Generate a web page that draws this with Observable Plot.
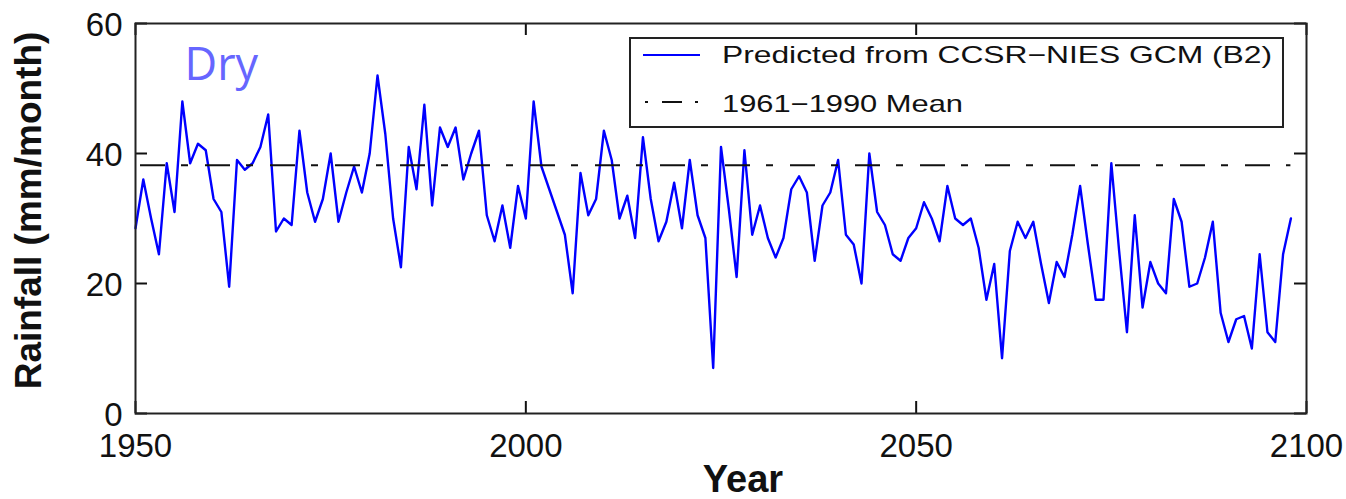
<!DOCTYPE html>
<html>
<head>
<meta charset="utf-8">
<script src="https://cdn.jsdelivr.net/npm/d3@7"></script>
<script src="https://cdn.jsdelivr.net/npm/@observablehq/plot@0.6"></script>
<style>
  html, body { margin: 0; padding: 0; background: #fff; }
  #wrap { position: relative; width: 1346px; height: 499px; overflow: hidden; }
  #legend { position: absolute; left: 0; top: 0; }
</style>
</head>
<body>
<div id="wrap"></div>
<script>
// ---- data ----
const startYear = 1950;
const rainfall = [
  28.5, 36, 30, 24.5, 38.5, 31, 48, 38.5, 41.5, 40.5,      // 1950-1959
  33, 31, 19.5, 39, 37.5, 38.5, 41, 46, 28, 30,            // 1960-1969
  29, 43.5, 34, 29.5, 33, 40, 29.5, 34, 38, 34,            // 1970-1979
  40, 52, 43, 30, 22.5, 41, 34.5, 47.5, 32, 44,            // 1980-1989
  41, 44, 36, 40, 43.5, 30.5, 26.5, 32, 25.5, 35,          // 1990-1999
  30, 48, 38, 34.5, 31, 27.5, 18.5, 37, 30.5, 33,          // 2000-2009
  43.5, 39, 30, 33.5, 27, 42.5, 33, 26.5, 29.5, 35.5,      // 2010-2019
  28.5, 39, 30.5, 27, 7, 41, 31.5, 21, 40.5, 27.5,         // 2020-2029
  32, 27, 24, 27, 34.5, 36.5, 34, 23.5, 32, 34,            // 2030-2039
  39, 27.5, 26, 20, 40, 31, 29, 24.5, 23.5, 27,            // 2040-2049
  28.5, 32.5, 30, 26.5, 35, 30, 29, 30, 25.5, 17.5,        // 2050-2059
  23, 8.5, 25, 29.5, 27, 29.5, 23, 17, 23.3, 21,           // 2060-2069
  27.5, 35, 26, 17.5, 17.5, 38.5, 25, 12.5, 30.5, 16.3,    // 2070-2079
  23.3, 20, 18.5, 33, 29.5, 19.5, 20, 24, 29.5, 15.5,      // 2080-2089
  11, 14.5, 15, 10, 24.5, 12.5, 11, 24.5, 30               // 2090-2098
];
const years = rainfall.map((_, i) => startYear + i);
const meanValue = 38.2;
const meanSpan = [1950, 2098];
const xTicks = [1950, 2000, 2050, 2100];
const yTicks = [0, 20, 40, 60];
const xDomain = [1950, 2100];
const yDomain = [0, 60];
const seriesLabels = ["Predicted from CCSR\u2212NIES GCM (B2)", "1961\u22121990 Mean"];
const yTitle = "Rainfall (mm/month)";
const xTitle = "Year";
const note = "Dry";

// ---- chart ----
const W = 1346, H = 499;
const mL = 135, mR = 40, mT = 23, mB = 86;
const frameW = W - mL - mR, frameH = H - mT - mB;
const tickLen = 12;
const font = "'Liberation Sans', Arial, sans-serif";

const chart = Plot.plot({
  width: W, height: H,
  marginLeft: mL, marginRight: mR, marginTop: mT, marginBottom: mB,
  style: { background: "#fff", fontFamily: font, color: "#111" },
  x: { domain: xDomain, ticks: xTicks },
  y: { domain: yDomain, ticks: yTicks },
  marks: [
    Plot.line(rainfall, { x: years, y: rainfall, stroke: "#0000ff", strokeWidth: 2.4, curve: "linear" }),
    Plot.ruleY([meanValue], { x1: () => meanSpan[0], x2: () => meanSpan[1], stroke: "#111", strokeWidth: 2, strokeDasharray: "25,16,7,17", strokeDashoffset: -5 }),
    // inward ticks on all four sides
    Plot.tickX(xTicks, { x: d => d, insetTop: frameH - tickLen, stroke: "#111", strokeWidth: 2 }),
    Plot.tickX(xTicks, { x: d => d, insetBottom: frameH - tickLen, stroke: "#111", strokeWidth: 2 }),
    Plot.tickY(yTicks, { y: d => d, insetRight: frameW - tickLen, stroke: "#111", strokeWidth: 2 }),
    Plot.tickY(yTicks, { y: d => d, insetLeft: frameW - tickLen, stroke: "#111", strokeWidth: 2 }),
    Plot.frame({ stroke: "#222", strokeWidth: 2 }),
    Plot.axisX({ ticks: xTicks, tickSize: 0, tickPadding: 20, tickFormat: d => String(d), fontSize: 33, label: null, fill: "#111" }),
    Plot.axisY({ ticks: yTicks, tickSize: 0, tickPadding: 13, tickFormat: d => String(d), fontSize: 33, label: null, dy: 2, fill: "#111" }),
    Plot.text([yTitle], { frameAnchor: "left", text: d => d, rotate: -90, textAnchor: "middle", dx: -106, dy: -8, fontSize: 37, fontWeight: "bold", fill: "#111" }),
    Plot.text([xTitle], { frameAnchor: "bottom", text: d => d, dx: 22, dy: 52, lineAnchor: "top", fontSize: 38, fontWeight: "bold", fill: "#111" }),
    Plot.text([note], { frameAnchor: "top-left", text: d => d, dx: 49, dy: 25, lineAnchor: "top", textAnchor: "start", fontSize: 45, fill: "#6666ff", fontFamily: "'Open Sans', sans-serif" })
  ]
});
document.getElementById("wrap").appendChild(chart);

// ---- legend (inside the axes, top right) ----
const lg = d3.select("#wrap").append("svg")
  .attr("id", "legend").attr("width", W).attr("height", H)
  .style("pointer-events", "none");
lg.append("rect").attr("x", 630).attr("y", 38).attr("width", 653).attr("height", 89)
  .attr("fill", "#fff").attr("stroke", "#222").attr("stroke-width", 2);
lg.append("line").attr("x1", 643).attr("x2", 700).attr("y1", 55).attr("y2", 55)
  .attr("stroke", "#0000ff").attr("stroke-width", 2);
lg.append("line").attr("x1", 645).attr("x2", 700).attr("y1", 102).attr("y2", 102)
  .attr("stroke", "#111").attr("stroke-width", 2).attr("stroke-dasharray", "3,14,20,13,3,20");
lg.append("text").attr("x", 722).attr("y", 63).text(seriesLabels[0])
  .attr("font-family", font).attr("font-size", 24).attr("fill", "#111")
  .attr("textLength", 550).attr("lengthAdjust", "spacingAndGlyphs");
lg.append("text").attr("x", 722).attr("y", 112).text(seriesLabels[1])
  .attr("font-family", font).attr("font-size", 24).attr("fill", "#111")
  .attr("textLength", 241).attr("lengthAdjust", "spacingAndGlyphs");
</script>
</body>
</html>
